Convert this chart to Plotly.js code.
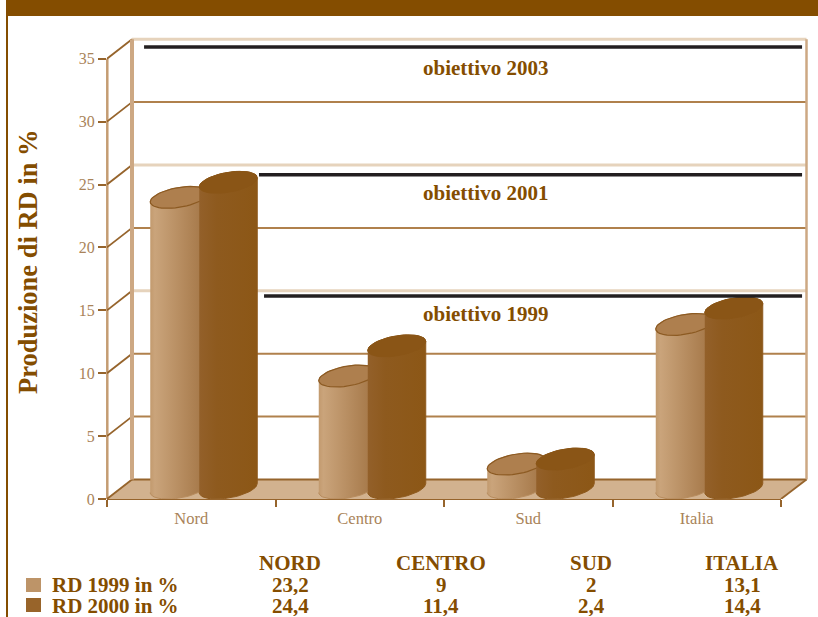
<!DOCTYPE html>
<html>
<head>
<meta charset="utf-8">
<script src="https://cdn.plot.ly/plotly-3.0.1.min.js"></script>
<style>html,body{margin:0;padding:0;background:#fff;overflow:hidden}</style>
</head>
<body>
<div id="chart" style="width:818px;height:617px"></div>
<script>
// Categories and series
const categories = ['Nord', 'Centro', 'Sud', 'Italia'];
const tableHeaders = ['NORD', 'CENTRO', 'SUD', 'ITALIA'];
const rd1999 = [23.2, 9, 2, 13.1];
const rd2000 = [24.4, 11.4, 2.4, 14.4];
const yTicks = [0, 5, 10, 15, 20, 25, 30, 35];
const paleLevels = [15, 25, 35];

// Target lines: label, level on the axis, starting category position
const targetNames = ['obiettivo 2003', 'obiettivo 2001', 'obiettivo 1999'];
const targetLevels = [35.93, 25.78, 16.14];
const targetStarts = [0.22, 0.902, 0.932];

// Plot frame in page pixels
const W = 818, H = 617;
const L = 107, R = 812, B = 499, T = 36;
const pxPerCat = 168.5, pxPerUnit = 12.58;
const depthX = 25 / pxPerCat, depthY = 19.5 / pxPerUnit;
const xMax = (R - L) / pxPerCat, yMax = (B - T) / pxPerUnit;
const wallRight = (806.5 - L) / pxPerCat;
const floorRight = (781 - L) / pxPerCat;

const brown = '#844d00', line = '#96642c', wall = '#cda883', pale = '#e6d3bc';
const serif = '"Liberation Serif", "Times New Roman", serif';

// Page pixels to paper coordinates, for the frame and table
const px = x => (x - L) / (R - L);
const py = y => (B - y) / (B - T);

// Cylinder proportions
const cylW = 58 / pxPerCat, a = cylW / 2;
const capB = 10 / pxPerUnit, capS = 4.5 / pxPerUnit;
const sideOffset = 24.5 / pxPerCat;
const centre = i => i + 0.5 + depthX / 2;
const base = depthY / 2;
const footLift = 1.2 / pxPerUnit;

function arc(cx, cy, t0, t1, n) {
  const xs = [], ys = [];
  for (let k = 0; k <= n; k++) {
    const t = t0 + (t1 - t0) * k / n;
    xs.push(cx + a * Math.cos(t));
    ys.push(cy + capS * Math.cos(t) + capB * Math.sin(t));
  }
  return [xs, ys];
}

function bodyTrace(cx, v, stops, edge) {
  const top = arc(cx, base + v, Math.PI, 0, 24);
  const bottom = arc(cx, base + footLift, 0, -Math.PI, 24);
  return {
    type: 'scatter', mode: 'lines', hoverinfo: 'skip', showlegend: false,
    x: top[0].concat(bottom[0]), y: top[1].concat(bottom[1]),
    fill: 'toself', line: {color: edge, width: 1},
    fillgradient: {type: 'horizontal', colorscale: stops}
  };
}

function capTrace(cx, v, fill, edge, width) {
  const c = arc(cx, base + v, 0, 2 * Math.PI, 48);
  return {
    type: 'scatter', mode: 'lines', hoverinfo: 'skip', showlegend: false,
    x: c[0], y: c[1], fill: 'toself', fillcolor: fill, line: {color: edge, width: width}
  };
}

const xs = side => categories.map((_, i) => centre(i) + side * sideOffset);

const traces = [
  {type: 'bar', name: 'RD 1999 in %', x: xs(-1), y: rd1999, base: base + footLift, width: cylW * 0.8,
   marker: {color: '#b98f62'}, showlegend: false},
  {type: 'bar', name: 'RD 2000 in %', x: xs(1), y: rd2000, base: base + footLift, width: cylW * 0.8,
   marker: {color: '#8f5a1f'}, showlegend: false}
];

const lightStops = [[0, '#c29a6e'], [0.08, '#caa47b'], [0.85, '#a87b4c'], [1, '#a87b4c']];
const darkStops = [[0, '#93602a'], [0.3, '#8e5a1e'], [1, '#8c5716']];

categories.forEach((_, i) => {
  traces.push(bodyTrace(centre(i) - sideOffset, rd1999[i], lightStops, '#b78c5e'));
  traces.push(capTrace(centre(i) - sideOffset, rd1999[i], '#ae7f4e', '#8c5a22', 1.2));
});
categories.forEach((_, i) => {
  traces.push(bodyTrace(centre(i) + sideOffset, rd2000[i], darkStops, '#8e5a1e'));
  traces.push(capTrace(centre(i) + sideOffset, rd2000[i], '#8a5516', '#8a5516', 1));
});

// Target lines on the back wall
targetNames.forEach((name, i) => {
  traces.push({
    type: 'scatter', mode: 'lines', name: name, hoverinfo: 'skip', showlegend: false,
    x: [targetStarts[i], 4.125], y: [targetLevels[i], targetLevels[i]],
    line: {color: '#231f20', width: 3.5}
  });
});

// Walls, floor and depth gridlines
const shapes = [];
const seg = (x0, y0, x1, y1, color, width) => shapes.push({
  type: 'line', xref: 'x', yref: 'y', layer: 'below',
  x0, y0, x1, y1, line: {color, width}
});
const frameSeg = (x0, y0, x1, y1, color, width) => shapes.push({
  type: 'line', xref: 'paper', yref: 'paper', layer: 'below',
  x0: px(x0), y0: py(y0), x1: px(x1), y1: py(y1), line: {color, width}
});

shapes.push({
  type: 'path', xref: 'x', yref: 'y', layer: 'below', line: {width: 0}, fillcolor: '#d2b28f',
  path: `M0,0 L${depthX},${depthY} L${wallRight},${depthY} L${floorRight},0 Z`
});
yTicks.forEach(v => {
  const isPale = paleLevels.includes(v);
  if (v > 0) {
    seg(depthX, v + depthY, wallRight, v + depthY, isPale ? pale : '#b0814c', isPale ? 3 : 2);
    seg(0, v, depthX, v + depthY, line, 1.8);
  }
});
seg(depthX, depthY, wallRight, depthY, line, 2);
seg(0, 0, depthX, depthY, line, 1.8);
seg(depthX, depthY, depthX, 35 + depthY, wall, 4);
seg(wallRight, depthY, wallRight, 35 + depthY, wall, 2.5);
seg(floorRight, 0, wallRight, depthY, line, 1.8);
frameSeg(107.3, 499, 107.3, 58.7, '#c49c72', 2.5);
frameSeg(107, 499, 781, 499, line, 1.8);

// Header band, left rule and legend swatches
const rect = (x0, y0, x1, y1, color) => shapes.push({
  type: 'rect', xref: 'paper', yref: 'paper', layer: 'above', line: {width: 0}, fillcolor: color,
  x0: px(x0), x1: px(x1), y0: py(y0), y1: py(y1)
});
rect(7, 0, W, 16, brown);
rect(6, 0, 8, H, brown);
rect(26, 578, 41, 592, '#bd9468');
rect(26, 598, 41, 612, '#98642a');

const text = (x, y, s, size, opts) => Object.assign({
  xref: 'paper', yref: 'paper', x: px(x), y: py(y), text: s, showarrow: false,
  xanchor: 'center', yanchor: 'middle',
  font: {family: serif, size: size, color: brown}
}, opts || {});

const annotations = [];
targetNames.forEach((name, i) => {
  annotations.push(text(485, [68, 193, 314][i], '<b>' + name + '</b>', 21));
});

// Rows sit closer than the default line box, so each cell gets a fixed height
const cell = {height: 20, borderpad: 0, borderwidth: 0};
const fmt = v => String(v).replace('.', ',');
const columnX = [290, 441, 591, 742];
tableHeaders.forEach((h, i) => {
  annotations.push(text(columnX[i], 563, '<b>' + h + '</b>', 21, cell));
  annotations.push(text(columnX[i], 585, '<b>' + fmt(rd1999[i]) + '</b>', 21, cell));
  annotations.push(text(columnX[i], 606, '<b>' + fmt(rd2000[i]) + '</b>', 21, cell));
});
annotations.push(text(52, 585, '<b>RD 1999 in %</b>', 21, Object.assign({xanchor: 'left'}, cell)));
annotations.push(text(52, 606, '<b>RD 2000 in %</b>', 21, Object.assign({xanchor: 'left'}, cell)));
annotations.push(text(28, 262, '<b>Produzione di RD in %</b>', 26.5, {textangle: -90}));

const layout = {
  width: W, height: H,
  margin: {l: L, r: W - R, t: T, b: H - B, pad: 0},
  paper_bgcolor: '#fff', plot_bgcolor: '#fff',
  barmode: 'overlay', showlegend: false,
  xaxis: {
    range: [0, xMax], showgrid: false, zeroline: false, showline: false,
    tickmode: 'array', tickvals: categories.map((_, i) => i + 0.5), ticktext: categories,
    ticks: '', ticklabelstandoff: 7,
    tickfont: {family: serif, size: 16.5, color: '#a98359'},
    minor: {tickmode: 'array', tickvals: [0, 1, 2, 3, 4], ticks: 'outside', ticklen: 7, tickwidth: 2, tickcolor: line, showgrid: false}
  },
  yaxis: {
    range: [0, yMax], showgrid: false, zeroline: false, showline: false,
    tickmode: 'array', tickvals: yTicks, ticks: 'outside', ticklen: 8, tickwidth: 2, tickcolor: line,
    tickfont: {family: serif, size: 16, color: '#a98359'}
  },
  shapes, annotations
};

Plotly.newPlot('chart', traces, layout, {displayModeBar: false, staticPlot: true});
</script>
</body>
</html>
